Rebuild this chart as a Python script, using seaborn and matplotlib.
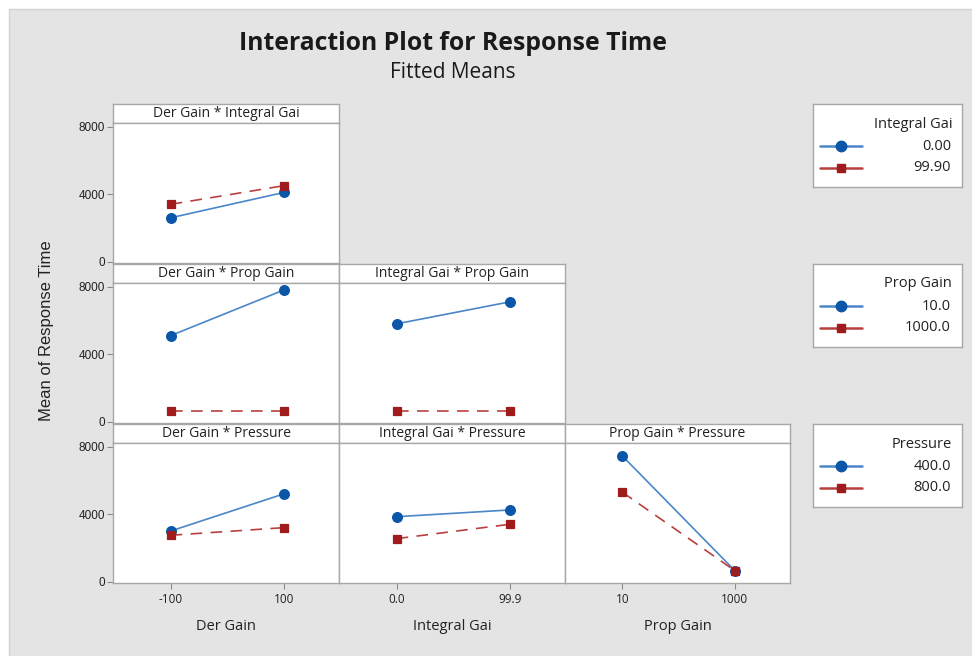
import matplotlib
matplotlib.use("Agg")
import matplotlib.pyplot as plt
from matplotlib.lines import Line2D
from matplotlib.patches import Rectangle
import pandas as pd
import seaborn as sns

# factor levels as shown on the x axes
der_levels = ['-100', '100']
int_levels = ['0.0', '99.9']
prop_levels = ['10', '1000']

# legend labels for the trace factors
int_legend = ['0.00', '99.90']
prop_legend = ['10.0', '1000.0']
press_legend = ['400.0', '800.0']

# fitted means (first trace level, second trace level)
der_x_int = [[2600, 4100], [3400, 4500]]
der_x_prop = [[5100, 7800], [650, 650]]
int_x_prop = [[5800, 7100], [650, 650]]
der_x_press = [[3000, 5200], [2750, 3200]]
int_x_press = [[3850, 4250], [2550, 3400]]
prop_x_press = [[7450, 650], [5300, 650]]

panels = [
    (0, 0, 'Der Gain * Integral Gai', der_levels, int_legend, der_x_int),
    (1, 0, 'Der Gain * Prop Gain', der_levels, prop_legend, der_x_prop),
    (1, 1, 'Integral Gai * Prop Gain', int_levels, prop_legend, int_x_prop),
    (2, 0, 'Der Gain * Pressure', der_levels, press_legend, der_x_press),
    (2, 1, 'Integral Gai * Pressure', int_levels, press_legend, int_x_press),
    (2, 2, 'Prop Gain * Pressure', prop_levels, press_legend, prop_x_press),
]
legends = [('Integral Gai', int_legend), ('Prop Gain', prop_legend), ('Pressure', press_legend)]
x_titles = ['Der Gain', 'Integral Gai', 'Prop Gain']

BLUE_LINE, BLUE_MARK = '#4a86c8', '#0a56a8'
RED_LINE, RED_MARK = '#b8403f', '#a01c1c'
EDGE = '#a8a8a8'
BG = '#e4e4e4'

sns.set_style("white")
plt.rcParams['font.family'] = ['Open Sans', 'DejaVu Sans']

W, H = 972, 656
fig = plt.figure(figsize=(W / 100, H / 100), dpi=100, facecolor='white')
fig.patches.append(Rectangle((9 / W, -0.01), 1, 1.01 - 9 / H, transform=fig.transFigure,
                             facecolor=BG, edgecolor='#d2d2d2', lw=1, zorder=-10))


def px_axes(x0, y0, w, h):
    return fig.add_axes([x0 / W, 1 - (y0 + h) / H, w / W, h / H])


col_x = [113, 339, 565]
col_w = [226, 226, 225]
row_top = [104, 264, 424]
head_h, plot_h = 19, 140

for r, c, title, levels, trace_labels, vals in panels:
    x0, w = col_x[c], col_w[c]
    hax = px_axes(x0, row_top[r], w, head_h)
    hax.set_facecolor('white')
    hax.set_xticks([]); hax.set_yticks([])
    for s in hax.spines.values():
        s.set_color(EDGE); s.set_linewidth(1)
    hax.text(0.5, 0.5, title, ha='center', va='center', fontsize=10, color='#222222')

    ax = px_axes(x0, row_top[r] + head_h, w, plot_h)
    df = pd.DataFrame({
        'x': levels * 2,
        'trace': [trace_labels[0]] * 2 + [trace_labels[1]] * 2,
        'mean': vals[0] + vals[1],
    })
    sns.pointplot(data=df, x='x', y='mean', hue='trace', order=levels, hue_order=trace_labels,
                  palette=[BLUE_LINE, RED_LINE], markers=['o', 's'], linestyles=['-', '--'],
                  errorbar=None, legend=False, markersize=6.5, linewidth=1.2, ax=ax)
    for ln in ax.lines:
        col = matplotlib.colors.to_hex(ln.get_color())
        if col == BLUE_LINE:
            ln.set_markerfacecolor(BLUE_MARK); ln.set_markeredgecolor(BLUE_MARK)
            ln.set_markersize(7)
        else:
            ln.set_markerfacecolor(RED_MARK); ln.set_markeredgecolor(RED_MARK)
            ln.set_markersize(6)
            ln.set_dashes([7, 5])
    ax.set_xlim(-0.51, 1.49)
    ax.set_ylim(-80, 8220)
    ax.set_facecolor('white')
    for s in ax.spines.values():
        s.set_visible(True); s.set_color(EDGE); s.set_linewidth(1)
    ax.set_xlabel(''); ax.set_ylabel('')
    ax.tick_params(colors='#8a8a8a', length=4, width=0.8, labelcolor='#222222')
    if c == 0:
        ax.set_yticks([0, 4000, 8000])
        ax.set_yticklabels(['0', '4000', '8000'], family='Liberation Sans', fontsize=8.5)
        ax.tick_params(axis='y', left=True, pad=1.5)
    else:
        ax.set_yticks([])
    if r == 2:
        ax.set_xticks([0, 1])
        ax.set_xticklabels(levels, fontsize=8.5)
        ax.tick_params(axis='x', bottom=True, pad=3.5)
        fig.text((x0 + w / 2) / W, 1 - 627 / H, x_titles[c], ha='center', va='center',
                 fontsize=10.5, color='#222222')
    else:
        ax.set_xticks([])

# legends, one per trace factor
for i, (ltitle, labels) in enumerate(legends):
    lax = px_axes(813, row_top[i], 149, 83)
    lax.set_facecolor('white')
    lax.set_xlim(0, 149); lax.set_ylim(83, 0)
    lax.set_xticks([]); lax.set_yticks([])
    for s in lax.spines.values():
        s.set_color(EDGE); s.set_linewidth(1)
    lax.text(139, 20, ltitle, ha='right', va='center', fontsize=10.5, color='#222222')
    styles = [(BLUE_LINE, BLUE_MARK, 'o', 7.5), (RED_LINE, RED_MARK, 's', 5.5)]
    for j, (lc, mc, mk, ms) in enumerate(styles):
        yy = 42 + j * 21.5
        lax.add_line(Line2D([7, 49], [yy, yy], color=lc, lw=1.8))
        lax.add_line(Line2D([28], [yy], marker=mk, markersize=ms, color=mc, lw=0))
        lax.text(138, yy, labels[j], ha='right', va='center', fontsize=10.5, color='#222222')

fig.text(47 / W, 1 - 331 / H, 'Mean of Response Time', rotation=90, ha='center', va='center',
         family='Liberation Sans', fontsize=12, color='#222222')
fig.text(452.5 / W, 1 - 43 / H, 'Interaction Plot for Response Time', ha='center', va='center',
         fontsize=17.8, fontweight='bold', color='#1a1a1a')
fig.text(452.5 / W, 1 - 73 / H, 'Fitted Means', ha='center', va='center',
         fontsize=15, color='#1a1a1a')

fig.savefig('out.png', dpi=100, facecolor=fig.get_facecolor())
